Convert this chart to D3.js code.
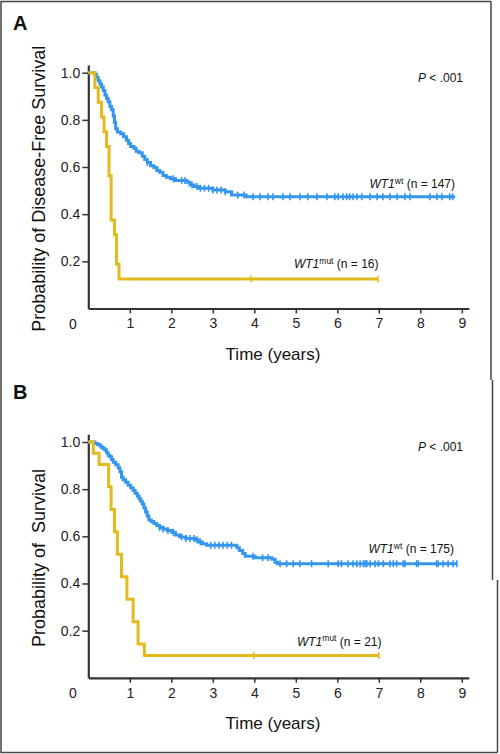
<!DOCTYPE html>
<html><head><meta charset="utf-8">
<script src="https://cdn.jsdelivr.net/npm/d3@7"></script>
<style>
body{margin:0;background:#fff}
svg{display:block;font-family:"Liberation Sans",Arial,Helvetica,sans-serif}
</style>
</head><body>
<svg id="chart" width="500" height="754"></svg>
<script>
// ---------- data ----------
const xTickValues = [1, 2, 3, 4, 5, 6, 7, 8, 9];
const yTickValues = [0.2, 0.4, 0.6, 0.8, 1.0];

// Panel A: disease-free survival
const aWtTimes = [0,0.16,0.20,0.24,0.28,0.32,0.36,0.40,0.44,0.48,0.52,0.56,0.60,0.63,0.66,0.70,0.78,0.85,0.92,0.97,1.02,1.10,1.15,1.22,1.30,1.36,1.42,1.50,1.58,1.65,1.72,1.80,1.88,1.98,2.10,2.38,2.45,2.55,2.65,3.00,3.30,3.45,3.80];
const aWtSurv  = [1,0.993,0.980,0.966,0.952,0.939,0.925,0.905,0.891,0.877,0.857,0.843,0.816,0.789,0.762,0.748,0.741,0.728,0.714,0.700,0.687,0.680,0.667,0.660,0.646,0.632,0.619,0.605,0.598,0.585,0.578,0.564,0.557,0.550,0.543,0.535,0.524,0.517,0.510,0.503,0.495,0.481,0.474];
const aWtEnd = 8.84;
const aWtCensor = [1.42,2.05,2.25,2.33,2.50,2.62,2.70,2.80,2.90,3.00,3.10,3.20,3.30,3.60,3.75,3.97,4.14,4.33,4.45,4.69,4.86,5.10,5.29,5.51,5.75,5.94,6.02,6.14,6.23,6.30,6.38,6.47,6.59,6.79,6.96,7.10,7.27,7.44,7.63,7.75,8.23,8.40,8.52,8.71,8.78];

const aMutTimes = [0,0.16,0.24,0.32,0.38,0.44,0.50,0.55,0.63,0.68,0.74];
const aMutSurv  = [1,0.9375,0.875,0.8125,0.75,0.6875,0.5625,0.375,0.3125,0.1875,0.125];
const aMutEnd = 6.98;
const aMutCensor = [3.92, 6.98];

// Panel B: overall survival
const bWtTimes = [0,0.16,0.22,0.28,0.32,0.36,0.40,0.44,0.48,0.52,0.56,0.60,0.66,0.72,0.76,0.80,0.84,0.90,0.96,1.02,1.08,1.13,1.18,1.22,1.26,1.30,1.34,1.38,1.42,1.46,1.52,1.58,1.65,1.72,1.80,1.90,2.01,2.10,2.20,2.35,2.57,2.65,2.75,2.85,3.58,3.64,3.72,3.78,4.02,4.42,4.50,4.56];
const bWtSurv  = [1,0.994,0.989,0.983,0.977,0.971,0.966,0.954,0.943,0.937,0.926,0.914,0.903,0.891,0.874,0.851,0.840,0.829,0.817,0.806,0.794,0.783,0.771,0.760,0.749,0.737,0.720,0.703,0.686,0.669,0.663,0.654,0.646,0.637,0.631,0.625,0.617,0.606,0.597,0.591,0.585,0.576,0.568,0.562,0.551,0.540,0.527,0.515,0.509,0.503,0.490,0.484];
const bWtEnd = 8.89;
const bWtCensor = [1.72,1.80,1.92,2.05,2.25,2.35,2.45,2.55,2.62,2.70,2.95,3.05,3.15,3.25,3.35,3.45,3.97,4.20,4.33,4.62,4.78,4.94,5.10,5.38,5.78,6.02,6.10,6.26,6.38,6.47,6.55,6.63,6.67,6.71,6.79,6.91,6.99,7.11,7.27,7.35,7.43,7.59,7.63,7.91,7.95,8.39,8.43,8.55,8.67,8.79,8.88];

const bMutTimes = [0,0.12,0.26,0.49,0.55,0.63,0.70,0.80,0.93,1.08,1.20,1.35];
const bMutSurv  = [1,0.952,0.905,0.810,0.714,0.619,0.524,0.429,0.333,0.238,0.143,0.095];
const bMutEnd = 7.0;
const bMutCensor = [3.99, 7.0];

const panelLetters = ["A", "B"];
const yAxisTitles = ["Probability of Disease-Free Survival", "Probability of  Survival"];
const wtCounts = [147, 175];
const mutCounts = [16, 21];

// ---------- drawing ----------
const BLUE = "#3496ee", YELLOW = "#e4b91c", AXIS = "#333";
const svg = d3.select("#chart");

// frame
svg.append("path")
  .attr("d", "M491,1.5 H1 V752.5 H497.5 M491,1.5 V380 M492.5,380 V580 M497.5,580 V752.5")
  .attr("fill", "none").attr("stroke", "#444").attr("stroke-width", 1.5);

const panels = [
  {off: 0, wt: [aWtTimes, aWtSurv, aWtEnd, aWtCensor], mut: [aMutTimes, aMutSurv, aMutEnd, aMutCensor],
   wtLabel: {x: 455, y: 188.3}, mutLabel: {x: 378.5, y: 268.3}, titleY: 188.7},
  {off: 369.3, wt: [bWtTimes, bWtSurv, bWtEnd, bWtCensor], mut: [bMutTimes, bMutSurv, bMutEnd, bMutCensor],
   wtLabel: {x: 454, y: 553.3}, mutLabel: {x: 381.5, y: 645.7}, titleY: 558}
];

const x = d3.scaleLinear().domain([0, 9.17]).range([88.3, 88.3 + 9.17 * 41.5]);

panels.forEach((p, i) => {
  const y = d3.scaleLinear().domain([0, 1.033]).range([308.5 + p.off, 308.5 + p.off - 1.033 * 235.8]);
  const g = svg.append("g");

  // axes
  const xa = g.append("g").attr("transform", `translate(0,${y(0)})`)
    .call(d3.axisBottom(x).tickValues(xTickValues).tickSize(5).tickSizeOuter(0).tickPadding(5).tickFormat(d3.format("d")));
  const ya = g.append("g").attr("transform", `translate(${x(0)},0)`)
    .call(d3.axisLeft(y).tickValues(yTickValues).tickSize(6).tickSizeOuter(0).tickPadding(2).tickFormat(d3.format(".1f")));
  [xa, ya].forEach(a => {
    a.select(".domain").attr("stroke", AXIS).attr("stroke-width", 2.2);
    a.selectAll(".tick line").attr("stroke", AXIS).attr("stroke-width", 1.5);
    a.selectAll(".tick text").attr("fill", "#222").style("font-size", "14px").style("font-family", "inherit");
  });
  g.append("text").attr("x", 73).attr("y", y(0) + 20.5).attr("text-anchor", "middle")
    .attr("fill", "#222").style("font-size", "14px").text("0");

  // titles
  g.append("text").attr("x", 13).attr("y", 30 + p.off).style("font-size", "20px").style("font-weight", "bold")
    .attr("fill", "#111").text(panelLetters[i]);
  g.append("text").attr("x", 273).attr("y", 360 + p.off).attr("text-anchor", "middle")
    .style("font-size", "17px").attr("fill", "#111").text("Time (years)");
  g.append("text").attr("transform", `translate(45,${p.titleY}) rotate(-90)`).attr("text-anchor", "middle")
    .style("font-size", "18px").style("white-space", "pre").attr("xml:space", "preserve").attr("fill", "#111").text(yAxisTitles[i]);

  // P value
  const pt = g.append("text").attr("x", 463).attr("y", 81.7 + p.off).attr("text-anchor", "end")
    .style("font-size", "12px").attr("fill", "#111");
  pt.append("tspan").style("font-style", "italic").text("P");
  pt.append("tspan").text(" < .001");

  // curves
  const line = d3.line().x(d => x(d[0])).y(d => y(d[1])).curve(d3.curveStepAfter);
  function drawSeries(s, color) {
    const [times, surv, end, censor] = s;
    const pts = times.map((t, k) => [t, surv[k]]);
    pts.push([end, surv[surv.length - 1]]);
    g.append("path").datum(pts).attr("d", line).attr("fill", "none")
      .attr("stroke", color).attr("stroke-width", 3);
    const survAt = t => surv[d3.bisectRight(times, t) - 1];
    g.selectAll(null).data(censor).join("line")
      .attr("x1", d => x(d)).attr("x2", d => x(d))
      .attr("y1", d => y(survAt(d)) - 3.5).attr("y2", d => y(survAt(d)) + 3.5)
      .attr("stroke", color).attr("stroke-width", 1.6);
  }
  drawSeries(p.wt, BLUE);
  drawSeries(p.mut, YELLOW);

  // series labels
  function seriesLabel(pos, sup, n) {
    const t = g.append("text").attr("x", pos.x).attr("y", pos.y).attr("text-anchor", "end")
      .style("font-size", "12px").attr("fill", "#111");
    t.append("tspan").style("font-style", "italic").text("WT1");
    t.append("tspan").style("font-size", "8.5px").attr("dy", -4.5).text(sup);
    t.append("tspan").attr("dy", 4.5).text(` (n = ${n})`);
  }
  seriesLabel(p.wtLabel, "wt", wtCounts[i]);
  seriesLabel(p.mutLabel, "mut", mutCounts[i]);
});
</script>
</body></html>
